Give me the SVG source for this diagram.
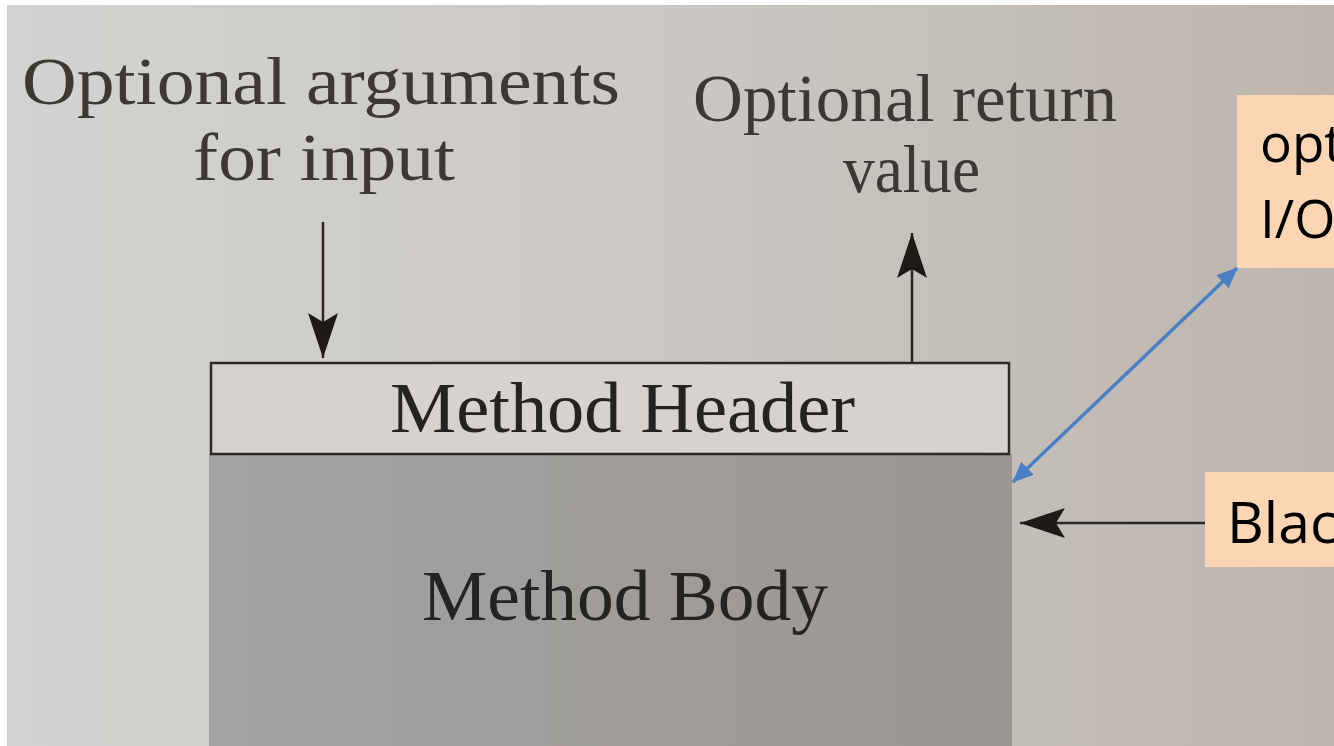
<svg xmlns="http://www.w3.org/2000/svg" width="1334" height="746" viewBox="0 0 1334 746">
<style>
.book{font-family:"Liberation Serif","Times New Roman",serif;}
.lbl{font-size:68px;fill:#3b3836;}
.mt{font-size:72px;fill:#252321;}
.note{font-family:"Open Sans","Liberation Sans",sans-serif;fill:#000;}
.blk{stroke:#2a2624;stroke-width:2.5;fill:none;}
.blue{stroke:#4a7fc3;stroke-width:3.5;fill:none;}
</style>
<defs>
<linearGradient id="paper" x1="0" y1="0" x2="1" y2="0">
<stop offset="0" stop-color="#d2d3d1"/>
<stop offset="0.45" stop-color="#cdc9c4"/>
<stop offset="1" stop-color="#bdb5ae"/>
</linearGradient>
<linearGradient id="body" x1="0" y1="0" x2="1" y2="0">
<stop offset="0" stop-color="#a3a3a3"/>
<stop offset="1" stop-color="#9b9691"/>
</linearGradient>
<marker id="bh" markerUnits="userSpaceOnUse" markerWidth="46" markerHeight="32" viewBox="0 0 46 32" refX="45" refY="16" orient="auto-start-reverse">
<path d="M0,1 L45,16 L0,31 L9,16 z" fill="#1e1a18"/>
</marker>
<marker id="bl" markerUnits="userSpaceOnUse" markerWidth="22" markerHeight="18" viewBox="0 0 22 18" refX="20" refY="9" orient="auto-start-reverse">
<path d="M0,0 L21,9 L0,18 z" fill="#4a7fc3"/>
</marker>
</defs>
<rect x="0" y="0" width="1334" height="746" fill="#ffffff"/>
<rect x="7" y="5" width="1327" height="741" fill="url(#paper)"/>

<g id="label-args">
<text class="book lbl" x="22" y="104" textLength="598" lengthAdjust="spacingAndGlyphs">Optional arguments</text>
<text class="book lbl" x="193" y="180" textLength="262" lengthAdjust="spacingAndGlyphs">for input</text>
</g>
<g id="label-return">
<text class="book lbl" x="693" y="121" textLength="424" lengthAdjust="spacingAndGlyphs">Optional return</text>
<text class="book lbl" x="843" y="192" textLength="137" lengthAdjust="spacingAndGlyphs">value</text>
</g>

<g id="method-body">
<rect x="209" y="454" width="803" height="292" fill="url(#body)"/>
<text class="book mt" x="422" y="620" textLength="406" lengthAdjust="spacingAndGlyphs">Method Body</text>
</g>
<g id="method-header">
<rect x="211" y="363" width="798" height="91" fill="#d6d3ce" stroke="#2e2a28" stroke-width="2.5"/>
<text class="book mt" x="390" y="432" textLength="465" lengthAdjust="spacingAndGlyphs">Method Header</text>
</g>

<g id="note-io">
<rect x="1237" y="95" width="97" height="173" fill="#fcd5b5"/>
<text class="note" font-size="53" x="1260" y="162">opt</text>
<text class="note" font-size="53" x="1260" y="238">I/O</text>
</g>
<g id="note-black">
<rect x="1205" y="472" width="129" height="95" fill="#fcd5b5"/>
<text class="note" font-size="57" x="1227" y="543">Blac</text>
</g>

<g id="connectors">
<line class="blk" x1="323" y1="222" x2="323" y2="358" marker-end="url(#bh)"/>
<line class="blk" x1="912" y1="362" x2="912" y2="233" marker-end="url(#bh)"/>
<line class="blk" x1="1205" y1="523" x2="1020" y2="523" marker-end="url(#bh)"/>
<line class="blue" x1="1237" y1="268" x2="1013" y2="482" marker-start="url(#bl)" marker-end="url(#bl)"/>
</g>
</svg>
